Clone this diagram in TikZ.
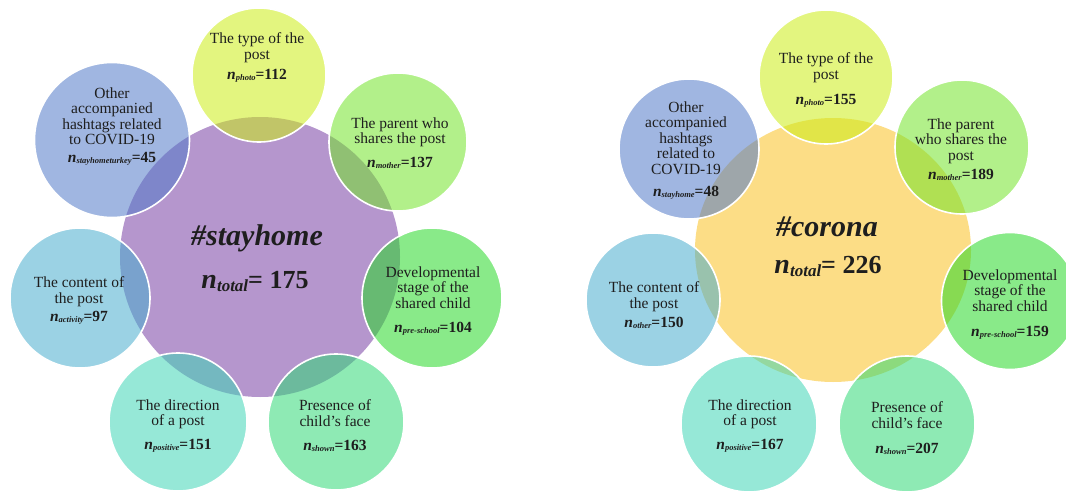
\documentclass[tikz,border=0pt]{standalone}
\usepackage{fontspec}
\setmainfont{Liberation Serif}
\usetikzlibrary{shapes.geometric}
\definecolor{cPurple}{RGB}{181,150,205}
\definecolor{cOrange}{RGB}{252,221,134}
\definecolor{cYel}{RGB}{204,237,22}
\definecolor{cParent}{RGB}{115,228,42}
\definecolor{cDev}{RGB}{40,217,40}
\definecolor{cFace}{RGB}{49,217,119}
\definecolor{cDir}{RGB}{64,213,182}
\definecolor{cCont}{RGB}{73,173,206}
\definecolor{cOther}{RGB}{82,122,200}
\definecolor{cText}{RGB}{30,30,30}
\newcommand\smallN[2]{{\bfseries\itshape n}\raisebox{-1pt}{\fontsize{8.5}{8.5}\selectfont\bfseries\itshape #1}{\bfseries=#2}}
\newcommand\bigN[1]{{\fontsize{28}{28}\selectfont\bfseries\itshape n}\raisebox{-3pt}{\fontsize{17}{17}\selectfont\bfseries\itshape total}{\fontsize{26}{26}\selectfont\bfseries= #1}}
\begin{document}
\begin{tikzpicture}[x=1pt,y=-1pt,
  hub/.style={draw=none, inner sep=0pt},
  bub/.style={circle, draw=white, line width=1.6pt, fill opacity=0.55, draw opacity=1, inner sep=0pt},
  lbl/.style={anchor=north, inner sep=0pt, align=center, text=cText, font=\fontsize{15.5}{15.5}\selectfont},
  title/.style={anchor=base, inner sep=0pt, text=cText, font=\fontsize{30}{30}\selectfont\bfseries\itshape},
  tot/.style={anchor=base, inner sep=0pt, text=cText}]
\useasboundingbox (0,0) rectangle (1066,495);
% ---------- left diagram ----------
\node[hub, circle, fill=cPurple, minimum size=280pt] (LC) at (260,257) {};
\node[bub, fill=cYel, minimum size=134pt] (L1) at (259,75) {};
\node[bub, fill=cParent, minimum size=138pt] (L2) at (398,142) {};
\node[bub, fill=cDev, minimum size=140pt] (L3) at (432,298) {};
\node[bub, fill=cFace, minimum size=136pt] (L4) at (336,422) {};
\node[bub, fill=cDir, minimum size=138pt] (L5) at (178,422) {};
\node[bub, fill=cCont, minimum size=140pt] (L6) at (80,298) {};
\node[bub, fill=cOther, minimum size=155pt] (L7) at (112,140) {};
\node[title] (LCt) at (257,245) {\#stayhome};
\node[tot] (LCn) at (255,288) {\bigN{175}};
\node[lbl] (L1t) at (257,32.4) {The type of the\\post\\[4.5pt]\smallN{photo}{112}};
\node[lbl] (L2t) at (400,117.4) {The parent who\\shares the post\\[8.5pt]\smallN{mother}{137}};
\node[lbl] (L3t) at (433,266.4) {Developmental\\stage of the\\shared child\\[8.5pt]\smallN{pre-school}{104}};
\node[lbl] (L4t) at (335,399.4) {Presence of\\child's face\\[8.5pt]\smallN{shown}{163}};
\node[lbl] (L5t) at (178,399.4) {The direction\\of a post\\[8.5pt]\smallN{positive}{151}};
\node[lbl] (L6t) at (79,276.4) {The content of\\the post\\[2.5pt]\smallN{activity}{97}};
\node[lbl] (L7t) at (112,87.4) {Other\\accompanied\\hashtags related\\to COVID-19\\[2.5pt]\smallN{stayhometurkey}{45}};
% ---------- right diagram ----------
\node[hub, ellipse, fill=cOrange, minimum width=276pt, minimum height=264pt] (RC) at (833,250) {};
\node[bub, fill=cYel, minimum size=134pt] (R1) at (826,77) {};
\node[bub, fill=cParent, minimum size=134pt] (R2) at (962,147) {};
\node[bub, fill=cDev, minimum size=137pt] (R3) at (1010,301) {};
\node[bub, fill=cFace, minimum size=136pt] (R4) at (907,424) {};
\node[bub, fill=cDir, minimum size=136pt] (R5) at (749,424) {};
\node[bub, fill=cCont, minimum size=134pt] (R6) at (653,300) {};
\node[bub, fill=cOther, minimum size=140pt] (R7) at (689,149) {};
\node[title] (RCt) at (827,236) {\#corona};
\node[tot] (RCn) at (828,273) {\bigN{226}};
\node[lbl] (R1t) at (826,52.4) {The type of the\\post\\[9.5pt]\smallN{photo}{155}};
\node[lbl] (R2t) at (961,118.4) {The parent\\who shares the\\post\\[3.5pt]\smallN{mother}{189}};
\node[lbl] (R3t) at (1010,269.4) {Developmental\\stage of the\\shared child\\[10pt]\smallN{pre-school}{159}};
\node[lbl] (R4t) at (907,401.4) {Presence of\\child's face\\[9.5pt]\smallN{shown}{207}};
\node[lbl] (R5t) at (750,399.4) {The direction\\of a post\\[8.5pt]\smallN{positive}{167}};
\node[lbl] (R6t) at (654,281.4) {The content of\\the post\\[3.5pt]\smallN{other}{150}};
\node[lbl] (R7t) at (686,101.4) {Other\\accompanied\\hashtags\\related to\\COVID-19\\[6.5pt]\smallN{stayhome}{48}};
\end{tikzpicture}
\end{document}
